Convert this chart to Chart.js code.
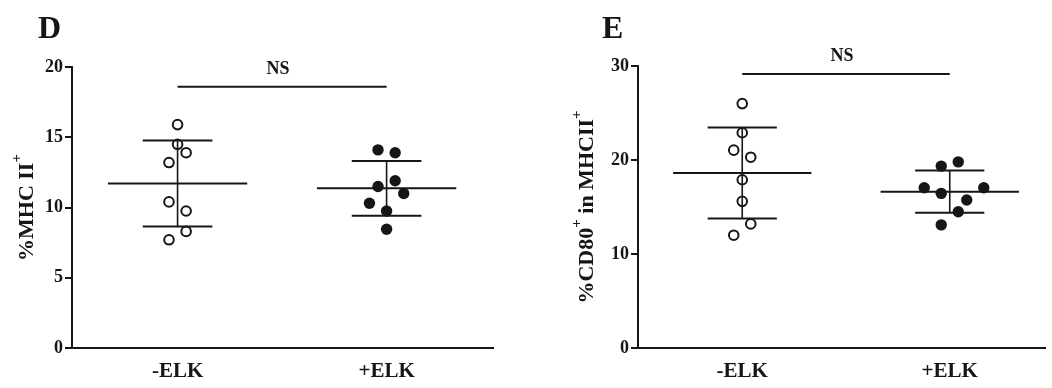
<!DOCTYPE html>
<html>
<head>
<meta charset="utf-8">
<script src="https://cdn.jsdelivr.net/npm/chart.js@4.4.1/dist/chart.umd.min.js"></script>
<style>
  html, body { margin: 0; padding: 0; background: #fff; }
  #wrap { position: relative; width: 1052px; height: 388px; overflow: hidden; }
  canvas { position: absolute; top: 0; }
  #chartD { left: 0; }
  #chartE { left: 540px; }
</style>
</head>
<body>
<div id="wrap">
  <canvas id="chartD" width="500" height="388"></canvas>
  <canvas id="chartE" width="512" height="388"></canvas>
</div>
<script>
const groups = ['-ELK', '+ELK'];

// D: %MHC II+ per animal, jitter is in columns left/right of the group centre
const mhcMinus = [15.9, 14.5, 13.9, 13.2, 10.4, 9.75, 8.3, 7.7];
const mhcMinusJitter = [0, 0, 1, -1, -1, 1, 1, -1];
const mhcPlus = [14.1, 13.9, 11.9, 11.5, 11.0, 10.3, 9.75, 8.45];
const mhcPlusJitter = [-1, 1, 1, -1, 2, -2, 0, 0];
const mhcTicks = [0, 5, 10, 15, 20];
const mhcNsLevel = 18.6;

// E: %CD80+ in MHCII+
const cd80Minus = [26.0, 22.9, 21.05, 20.3, 17.9, 15.6, 13.2, 12.0];
const cd80MinusJitter = [0, 0, -1, 1, 0, 0, 1, -1];
const cd80Plus = [19.35, 19.8, 17.05, 17.05, 16.45, 15.75, 14.5, 13.1];
const cd80PlusJitter = [-1, 1, -3, 4, -1, 2, 1, -1];
const cd80Ticks = [0, 10, 20, 30];
const cd80NsLevel = 29.15;

const INK = '#161616';
const JITTER_STEP = 0.041;
const MEAN_HALF = 1 / 3;
const CAP_HALF = 1 / 6;

function mean(a) {
  return a.reduce((s, v) => s + v, 0) / a.length;
}

function sd(a) {
  const m = mean(a);
  return Math.sqrt(a.reduce((s, v) => s + (v - m) ** 2, 0) / (a.length - 1));
}

function toPoints(values, jitter, pos) {
  return values.map((v, i) => ({ x: pos + jitter[i] * JITTER_STEP, y: v }));
}

// mean line + SD caps (horizontal) and the SD whisker (vertical), gaps split the pieces
function horizBars(values, pos) {
  const m = mean(values), s = sd(values);
  return [
    { x: pos - MEAN_HALF, y: m }, { x: pos + MEAN_HALF, y: m }, { x: pos, y: null },
    { x: pos - CAP_HALF, y: m + s }, { x: pos + CAP_HALF, y: m + s }, { x: pos, y: null },
    { x: pos - CAP_HALF, y: m - s }, { x: pos + CAP_HALF, y: m - s }, { x: pos, y: null }
  ];
}

function vertBar(values, pos) {
  const m = mean(values), s = sd(values);
  return [{ x: pos, y: m - s }, { x: pos, y: m + s }, { x: pos, y: null }];
}

function drawTitle(ctx, pieces) {
  const mainFont = 'bold 22px "Liberation Serif"';
  const supFont = 'bold 15px "Liberation Serif"';
  let total = 0;
  pieces.forEach(p => {
    ctx.font = p.sup ? supFont : mainFont;
    p.w = ctx.measureText(p.t).width;
    total += p.w;
  });
  let x = -total / 2;
  ctx.textAlign = 'left';
  ctx.textBaseline = 'alphabetic';
  pieces.forEach(p => {
    ctx.font = p.sup ? supFont : mainFont;
    ctx.fillText(p.t, x, p.sup ? -12 : 0);
    x += p.w;
  });
}

function makeAnnotate(cfg) {
  return {
    id: 'annotate',
    afterDraw(chart) {
      const ctx = chart.ctx;
      const xs = chart.scales.x, ys = chart.scales.y;
      const area = chart.chartArea;
      ctx.save();
      ctx.fillStyle = INK;

      ctx.font = 'bold 32px "Liberation Serif"';
      ctx.textAlign = 'left';
      ctx.textBaseline = 'alphabetic';
      ctx.fillText(cfg.letter, cfg.letterX, 38);

      ctx.font = 'bold 18px "Liberation Serif"';
      ctx.textAlign = 'center';
      const nsX = (xs.getPixelForValue(1) + xs.getPixelForValue(2)) / 2 - 4;
      ctx.fillText('NS', nsX, ys.getPixelForValue(cfg.nsLevel) - 13);

      ctx.translate(cfg.titleX, (area.top + area.bottom) / 2);
      ctx.rotate(-Math.PI / 2);
      drawTitle(ctx, cfg.title);
      ctx.restore();
    }
  };
}

function makePanel(id, cfg) {
  const lineStyle = { type: 'line', borderColor: INK, pointRadius: 0, spanGaps: false, fill: false, tension: 0 };
  new Chart(document.getElementById(id), {
    type: 'scatter',
    data: {
      datasets: [
        Object.assign({ data: horizBars(cfg.minus, 1).concat(horizBars(cfg.plus, 2)), borderWidth: 2 }, lineStyle),
        Object.assign({ data: vertBar(cfg.minus, 1).concat(vertBar(cfg.plus, 2)), borderWidth: 1.6 }, lineStyle),
        Object.assign({ data: [{ x: 1, y: cfg.nsLevel }, { x: 2, y: cfg.nsLevel }], borderWidth: 2 }, lineStyle),
        {
          data: toPoints(cfg.minus, cfg.minusJitter, 1),
          pointRadius: 4.8, pointBorderWidth: 2, pointBorderColor: INK,
          pointBackgroundColor: 'rgba(0,0,0,0)'
        },
        {
          data: toPoints(cfg.plus, cfg.plusJitter, 2),
          pointRadius: 5.7, pointBorderWidth: 0, pointBackgroundColor: INK
        }
      ]
    },
    options: {
      responsive: false,
      animation: false,
      events: [],
      layout: { padding: { top: cfg.top, right: cfg.right, left: 0, bottom: 0 } },
      plugins: { legend: { display: false }, tooltip: { enabled: false } },
      scales: {
        x: {
          type: 'linear',
          min: cfg.xMin,
          max: cfg.xMax,
          afterBuildTicks: s => { s.ticks = [{ value: 1 }, { value: 2 }]; },
          afterFit: s => { s.height = 40; },
          ticks: {
            callback: v => groups[Math.round(v) - 1],
            font: { family: 'Liberation Serif', size: 21, weight: 'bold' },
            color: INK,
            padding: 11,
            maxRotation: 0,
            autoSkip: false
          },
          grid: { display: false, drawTicks: false },
          border: { display: true, color: INK, width: 2 }
        },
        y: {
          min: 0,
          max: cfg.yTicks[cfg.yTicks.length - 1],
          afterBuildTicks: s => { s.ticks = cfg.yTicks.map(v => ({ value: v })); },
          afterFit: s => { s.width = cfg.yWidth; },
          ticks: {
            font: { family: 'Liberation Serif', size: 18, weight: 'bold' },
            color: INK,
            padding: 2
          },
          grid: { drawOnChartArea: false, drawTicks: true, tickLength: 7, color: INK, lineWidth: 2 },
          border: { display: true, color: INK, width: 2 }
        }
      }
    },
    plugins: [makeAnnotate(cfg)]
  });
}

makePanel('chartD', {
  minus: mhcMinus, minusJitter: mhcMinusJitter,
  plus: mhcPlus, plusJitter: mhcPlusJitter,
  yTicks: mhcTicks, nsLevel: mhcNsLevel,
  xMin: 0.495, xMax: 2.51,
  top: 67, right: 5, yWidth: 72,
  letter: 'D', letterX: 38, titleX: 33,
  title: [{ t: '%MHC II' }, { t: '+', sup: true }]
});

makePanel('chartE', {
  minus: cd80Minus, minusJitter: cd80MinusJitter,
  plus: cd80Plus, plusJitter: cd80PlusJitter,
  yTicks: cd80Ticks, nsLevel: cd80NsLevel,
  xMin: 0.4976, xMax: 2.46,
  top: 66, right: 0, yWidth: 98,
  letter: 'E', letterX: 62, titleX: 53,
  title: [{ t: '%CD80' }, { t: '+', sup: true }, { t: ' in MHCII' }, { t: '+', sup: true }]
});
</script>
</body>
</html>
